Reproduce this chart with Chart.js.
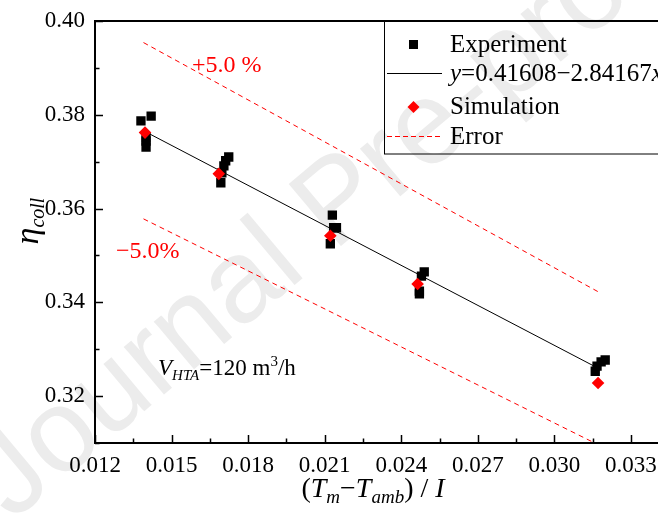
<!DOCTYPE html>
<html>
<head>
<meta charset="utf-8">
<script src="https://cdn.jsdelivr.net/npm/chart.js@4/dist/chart.umd.min.js"></script>
<style>
  html, body { margin: 0; padding: 0; background: #fff; }
  #wrap { width: 658px; height: 513px; }
</style>
</head>
<body>
<div id="wrap"><canvas id="chart"></canvas></div>
<script>
// Experiment points
const expX = [0.0138, 0.0142, 0.0140, 0.0140, 0.0140,
              0.01724, 0.01712, 0.01705, 0.01697, 0.01693,
              0.0213, 0.02146, 0.02135, 0.02122,
              0.0249, 0.02479, 0.02471, 0.02471,
              0.03199, 0.03183, 0.03167, 0.0316];
const expY = [0.3787, 0.3797, 0.3751, 0.3744, 0.3731,
              0.3710, 0.3702, 0.3691, 0.3676, 0.3655,
              0.3586, 0.3559, 0.3559, 0.3525,
              0.3465, 0.3456, 0.3424, 0.3418,
              0.3277, 0.3273, 0.3264, 0.3253];

// Simulation points
const simX = [0.01396, 0.01685, 0.02122, 0.02464, 0.03171];
const simY = [0.3762, 0.3674, 0.3542, 0.3439, 0.3228];

// Fit line and +/-5 % error lines (end points)
const lineX = [0.0139, 0.0318];
const fitY = [0.3766, 0.3257];
const upperY = [0.3954, 0.3420];
const lowerY = [0.3578, 0.3094];

// Tick labels
const xTickLabels = ["0.012", "0.015", "0.018", "0.021", "0.024", "0.027", "0.030", "0.033"];
const yTickLabels = ["0.32", "0.34", "0.36", "0.38", "0.40"];

const SERIF = '"Liberation Serif", "Times New Roman", serif';
const RED = "#ff0000";

const pts = (xs, ys) => xs.map((x, i) => ({ x: x, y: ys[i] }));

// draw a run of text pieces (font, offset) starting at x
function drawRuns(ctx, runs, x, y, align) {
  let total = 0;
  runs.forEach(r => { ctx.font = r.font; total += ctx.measureText(r.t).width; });
  let cx = align === "center" ? x - total / 2 : x;
  runs.forEach(r => {
    ctx.font = r.font;
    ctx.fillText(r.t, cx, y + (r.dy || 0));
    cx += ctx.measureText(r.t).width;
  });
}

const decor = {
  id: "decor",
  beforeDraw(chart) {
    const c = chart.ctx;
    c.save();
    c.fillStyle = "#fff";
    c.fillRect(0, 0, chart.width, chart.height);
    // faint watermark
    c.translate(12, 522);
    c.rotate(-40 * Math.PI / 180);
    c.font = '118px "Liberation Sans", Arial, sans-serif';
    c.fillStyle = "#ececec";
    c.textBaseline = "alphabetic";
    c.fillText("Journal Pre-proof", 0, 0);
    c.restore();
  },
  afterDraw(chart) {
    const c = chart.ctx;
    const a = chart.chartArea;
    const xs = chart.scales.x, ys = chart.scales.y;
    c.save();

    // frame (left, bottom, top) - the right side runs off the picture
    c.strokeStyle = "#000";
    c.lineWidth = 2;
    c.beginPath();
    c.moveTo(chart.width, a.top);
    c.lineTo(a.left, a.top);
    c.lineTo(a.left, a.bottom);
    c.lineTo(chart.width, a.bottom);
    c.stroke();

    // inward ticks
    c.lineWidth = 1.5;
    c.beginPath();
    xs.ticks.forEach(t => {
      const k = (t.value - 0.012) / 0.003;
      const major = Math.abs(k - Math.round(k)) < 1e-6;
      const px = Math.round(xs.getPixelForValue(t.value)) + 0.5;
      c.moveTo(px, a.bottom);
      c.lineTo(px, a.bottom - (major ? 8 : 4.5));
    });
    ys.ticks.forEach(t => {
      const k = (t.value - 0.32) / 0.02;
      const major = Math.abs(k - Math.round(k)) < 1e-6;
      const py = Math.round(ys.getPixelForValue(t.value)) + 0.5;
      c.moveTo(a.left, py);
      c.lineTo(a.left + (major ? 8 : 4.5), py);
    });
    c.stroke();

    // axis titles
    c.fillStyle = "#000";
    c.textBaseline = "alphabetic";
    drawRuns(c, [
      { t: "(", font: "28px " + SERIF },
      { t: "T", font: "italic 28px " + SERIF },
      { t: "m", font: "italic 19px " + SERIF, dy: 6 },
      { t: "\u2212", font: "28px " + SERIF },
      { t: "T", font: "italic 28px " + SERIF },
      { t: "amb", font: "italic 19px " + SERIF, dy: 6 },
      { t: ") / ", font: "28px " + SERIF },
      { t: "I", font: "italic 28px " + SERIF }
    ], 373, 497, "center");

    c.save();
    c.translate(38, 221);
    c.rotate(-Math.PI / 2);
    drawRuns(c, [
      { t: "\u03b7", font: "italic 34px " + SERIF },
      { t: "coll", font: "italic 20px " + SERIF, dy: 6 }
    ], 0, 0, "center");
    c.restore();

    // annotations
    c.fillStyle = RED;
    c.font = "24px " + SERIF;
    c.fillText("+5.0 %", 192, 72);
    c.fillText("\u22125.0%", 116, 258);

    c.fillStyle = "#000";
    drawRuns(c, [
      { t: "V", font: "italic 23px " + SERIF },
      { t: "HTA", font: "italic 15px " + SERIF, dy: 5 },
      { t: "=120 m", font: "23px " + SERIF },
      { t: "3", font: "15px " + SERIF, dy: -9 },
      { t: "/h", font: "23px " + SERIF }
    ], 158, 375, "left");

    // legend
    c.strokeStyle = "#000";
    c.lineWidth = 1;
    c.strokeRect(384.5, a.top, 300, 154 - a.top);
    c.textBaseline = "middle";
    c.fillStyle = "#000";
    c.fillRect(409, 40, 9, 9);
    c.font = "25px " + SERIF;
    c.fillText("Experiment", 450, 45);

    c.beginPath();
    c.moveTo(387, 73.5);
    c.lineTo(442, 73.5);
    c.stroke();
    drawRuns(c, [
      { t: "y", font: "italic 25px " + SERIF },
      { t: "=0.41608\u22122.84167", font: "25px " + SERIF },
      { t: "x", font: "italic 25px " + SERIF }
    ], 450, 74, "left");

    c.fillStyle = RED;
    c.beginPath();
    c.moveTo(413.5, 101);
    c.lineTo(419.5, 107);
    c.lineTo(413.5, 113);
    c.lineTo(407.5, 107);
    c.closePath();
    c.fill();
    c.fillStyle = "#000";
    c.font = "25px " + SERIF;
    c.fillText("Simulation", 450, 107);

    c.strokeStyle = RED;
    c.setLineDash([5, 3]);
    c.beginPath();
    c.moveTo(387, 136.5);
    c.lineTo(442, 136.5);
    c.stroke();
    c.setLineDash([]);
    c.fillText("Error", 450, 137);

    c.restore();
  }
};

new Chart(document.getElementById("chart"), {
  type: "scatter",
  data: {
    datasets: [
      {
        label: "Simulation",
        data: pts(simX, simY),
        pointStyle: "rectRot",
        pointRadius: 6.3,
        backgroundColor: RED,
        borderWidth: 0
      },
      {
        label: "y=0.41608\u22122.84167x",
        data: pts(lineX, fitY),
        showLine: true,
        pointRadius: 0,
        borderColor: "#000",
        borderWidth: 1
      },
      {
        label: "Experiment",
        data: pts(expX, expY),
        pointStyle: "rect",
        pointRadius: 6.6,
        backgroundColor: "#000",
        borderWidth: 0
      },
      {
        label: "Error",
        data: pts(lineX, upperY),
        showLine: true,
        pointRadius: 0,
        borderColor: RED,
        borderWidth: 1,
        borderDash: [5, 4]
      },
      {
        label: "Error low",
        data: pts(lineX, lowerY),
        showLine: true,
        pointRadius: 0,
        borderColor: RED,
        borderWidth: 1,
        borderDash: [5, 4]
      }
    ]
  },
  options: {
    responsive: true,
    maintainAspectRatio: false,
    animation: false,
    layout: { padding: { top: 21, right: 0, left: 0, bottom: 0 } },
    plugins: {
      legend: { display: false },
      tooltip: { enabled: false }
    },
    scales: {
      x: {
        type: "linear",
        min: 0.012,
        max: 0.0338,
        afterFit: scale => {
          scale.height = 70;
          scale.paddingLeft = 0;
          scale.paddingRight = 0;
        },
        grid: { display: false, drawTicks: false },
        border: { display: false },
        ticks: {
          stepSize: 0.0015,
          includeBounds: false,
          autoSkip: false,
          maxRotation: 0,
          maxTicksLimit: 100,
          padding: 9,
          color: "#000",
          font: { family: SERIF, size: 23 },
          callback: v => {
            const k = (v - 0.012) / 0.003;
            return Math.abs(k - Math.round(k)) < 1e-6 ? (xTickLabels[Math.round(k)] || "") : "";
          }
        }
      },
      y: {
        type: "linear",
        min: 0.31,
        max: 0.40,
        afterFit: scale => {
          scale.width = 95;
          scale.paddingTop = 0;
          scale.paddingBottom = 0;
        },
        grid: { display: false, drawTicks: false },
        border: { display: false },
        ticks: {
          stepSize: 0.01,
          includeBounds: false,
          autoSkip: false,
          maxTicksLimit: 100,
          padding: 10,
          color: "#000",
          font: { family: SERIF, size: 23 },
          callback: v => {
            const k = (v - 0.32) / 0.02;
            return Math.abs(k - Math.round(k)) < 1e-6 ? (yTickLabels[Math.round(k)] || "") : "";
          }
        }
      }
    }
  },
  plugins: [decor]
});
</script>
</body>
</html>
